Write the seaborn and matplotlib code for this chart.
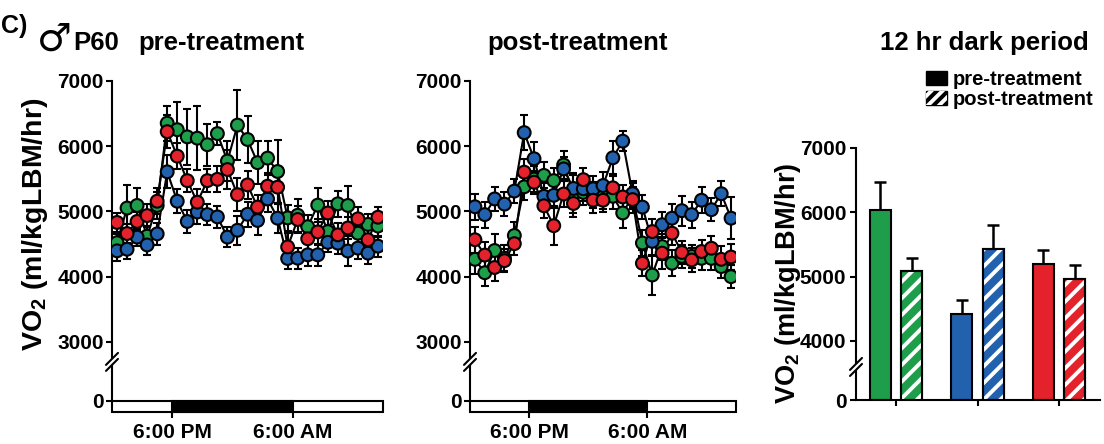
import numpy as np
import pandas as pd
import seaborn as sns
import matplotlib.pyplot as plt
from matplotlib.patches import Rectangle, Patch
from matplotlib.legend_handler import HandlerTuple

#%% Data
# hourly bins, noon day 1 -> 3 PM day 2 (hours since midnight)
hours = np.arange(12.5, 39.5, 1.0)
groups = ['green', 'blue', 'red']
colors = {'green': '#1e9e4a', 'blue': '#2161ae', 'red': '#e3222b'}

pre_green = [4520, 5050, 5090, 4620, 5090, 6350, 6250, 6140, 6120, 6020, 6190, 5770, 6320, 6100,
             5745, 5815, 5610, 4900, 4940, 4765, 5095, 4690, 5115, 5090, 4665, 4800, 4775]
pre_blue = [4395, 4420, 4605, 4485, 4655, 5605, 5155, 4845, 4990, 4950, 4915, 4605, 4710, 4955,
            4860, 5190, 4895, 4278, 4283, 4334, 4334, 4525, 4513, 4392, 4437, 4360, 4467]
pre_red = [4830, 4660, 4845, 4935, 5155, 6220, 5845, 5470, 5140, 5470, 5490, 5640, 5255, 5405,
           5065, 5385, 5370, 4455, 4875, 4580, 4685, 4975, 4640, 4745, 4885, 4565, 4910]
pre_green_sem = [130, 360, 270, 150, 200, 270, 420, 430, 490, 320, 180, 300, 540, 360,
                 330, 260, 480, 200, 250, 180, 260, 200, 200, 300, 180, 160, 170]
pre_blue_sem = [150, 150, 130, 160, 170, 250, 180, 170, 180, 160, 170, 150, 220, 190,
                220, 200, 220, 160, 160, 170, 170, 150, 160, 230, 160, 170, 160]
pre_red_sem = [150, 150, 150, 180, 200, 250, 200, 180, 200, 180, 200, 300, 250, 220,
               180, 200, 250, 220, 200, 180, 200, 180, 180, 170, 180, 180, 160]

post_green = [4265, 4060, 4400, 4280, 4630, 5375, 5495, 5550, 5470, 5710, 5280, 5290, 5255, 5230,
              5230, 4975, 5230, 4515, 4025, 4460, 4205, 4310, 4310, 4280, 4280, 4155, 4000]
post_blue = [5070, 4950, 5190, 5110, 5310, 6205, 5805, 5230, 5245, 5650, 5350, 5345, 5345, 5395,
             5820, 6075, 5270, 5065, 4540, 4795, 4895, 5010, 4950, 5170, 5025, 5270, 4895]
post_red = [4565, 4330, 4140, 4245, 4505, 5600, 5445, 5085, 4780, 5265, 5120, 5485, 5170, 5170,
            5360, 5220, 5180, 4205, 4690, 4360, 4665, 4370, 4255, 4385, 4435, 4265, 4300]
post_green_sem = [220, 200, 250, 200, 200, 200, 200, 200, 200, 220, 300, 200, 200, 200,
                  200, 230, 200, 200, 300, 200, 200, 180, 180, 180, 180, 180, 180]
post_blue_sem = [200, 200, 180, 180, 180, 270, 250, 200, 200, 180, 200, 180, 200, 200,
                 250, 150, 200, 180, 230, 200, 220, 230, 200, 200, 180, 190, 320]
post_red_sem = [200, 200, 200, 180, 180, 200, 180, 180, 300, 200, 200, 180, 200, 180,
                180, 180, 200, 200, 200, 250, 180, 180, 180, 180, 180, 200, 200]

# 12 hr dark period means
bar_pre = [6030, 4420, 5190]
bar_post = [5080, 5425, 4965]
bar_pre_sem = [430, 215, 220]
bar_post_sem = [210, 370, 215]

#%% Style
sns.set_style('ticks')
plt.rcParams['font.family'] = ['Liberation Sans', 'DejaVu Sans']
plt.rcParams.update({
    'font.weight': 'bold',
    'mathtext.fontset': 'custom',
    'mathtext.rm': 'Liberation Sans:bold',
    'mathtext.default': 'rm',
    'hatch.linewidth': 2.8,
    'axes.edgecolor': 'black',
    'axes.linewidth': 1.5,
    'xtick.color': 'black', 'ytick.color': 'black',
    'xtick.major.width': 1.5, 'ytick.major.width': 1.5,
    'xtick.major.size': 4, 'ytick.major.size': 4,
    'xtick.labelsize': 15, 'ytick.labelsize': 15,
    'text.color': 'black',
})


def broken_scale(ax, B, c):
    fwd = lambda v: np.where(v >= B, v, B - (B - v) * c)
    inv = lambda u: np.where(u >= B, u, B - (B - u) / c)
    ax.set_yscale('function', functions=(fwd, inv))


def axis_break(ax, yf):
    W, H = ax.bbox.width, ax.bbox.height
    dx, dy, gap = 6 / W, 6 / H, 3 / H
    ax.plot([0, 0], [yf - gap, yf + gap], transform=ax.transAxes, color='white',
            lw=3, clip_on=False, zorder=10, solid_capstyle='butt')
    for off in (-gap, gap):
        ax.plot([-dx, dx], [yf + off - dy, yf + off + dy], transform=ax.transAxes,
                color='black', lw=1.5, clip_on=False, zorder=11)


def long_df(g, b, r, eg, eb, er):
    parts = [pd.DataFrame({'hour': hours, 'vo2': v, 'sem': e, 'group': name})
             for name, v, e in [('green', g, eg), ('blue', b, eb), ('red', r, er)]]
    return pd.concat(parts, ignore_index=True)


def timecourse(ax, df):
    sns.lineplot(data=df, x='hour', y='vo2', units='group', estimator=None,
                 color='black', lw=1.5, ax=ax, zorder=2)
    for name in groups:
        d = df[df.group == name]
        ax.errorbar(d.hour, d.vo2, yerr=d['sem'], fmt='none', ecolor='black',
                    elinewidth=1.5, capsize=3, capthick=1.5, zorder=2)
    sns.scatterplot(data=df, x='hour', y='vo2', hue='group', palette=colors, s=85,
                    edgecolor='black', linewidth=1.5, legend=False, ax=ax, zorder=3)
    broken_scale(ax, 3000, 0.3)
    ax.set_xlim(12, 39)
    ax.set_ylim(-590, 7000)
    ax.add_patch(Rectangle((12, -590), 27, 590, fc='white', ec='black', lw=1.5,
                           clip_on=False, zorder=4))
    ax.add_patch(Rectangle((18, -590), 12, 590, fc='black', ec='black', lw=1.5,
                           clip_on=False, zorder=4))
    ax.set_yticks([0, 3000, 4000, 5000, 6000, 7000])
    ax.minorticks_off()
    ax.set_xticks([18, 30], ['6:00 PM', '6:00 AM'])
    ax.set_xlabel('')
    ax.set_ylabel('')
    sns.despine(ax=ax, bottom=True)
    ax.spines['left'].set_bounds(0, 7000)
    ax.tick_params(axis='y', pad=2)
    axis_break(ax, 0.152)


#%% Figure
fig = plt.figure(figsize=(11.04, 4.44), dpi=100)
ax1 = fig.add_axes([112 / 1104, 1 - 412.3 / 444, 271 / 1104, 331.6 / 444])
ax2 = fig.add_axes([470 / 1104, 1 - 412.3 / 444, 266 / 1104, 331.6 / 444])
ax3 = fig.add_axes([856 / 1104, 1 - 400 / 444, 244 / 1104, 252.3 / 444])

timecourse(ax1, long_df(pre_green, pre_blue, pre_red, pre_green_sem, pre_blue_sem, pre_red_sem))
timecourse(ax2, long_df(post_green, post_blue, post_red, post_green_sem, post_blue_sem, post_red_sem))

# dark period bars
bar_df = pd.DataFrame({'group': groups * 2,
                       'treatment': ['pre'] * 3 + ['post'] * 3,
                       'vo2': bar_pre + bar_post})
sns.barplot(data=bar_df, x='group', y='vo2', hue='treatment', order=groups,
            hue_order=['pre', 'post'], width=0.77, gap=0.33, errorbar=None,
            edgecolor='black', linewidth=1.5, legend=False, ax=ax3)
bars = [list(c) for c in ax3.containers[:2]]
for row, sems, hatched in [(bars[0], bar_pre_sem, False), (bars[1], bar_post_sem, True)]:
    for bar, g, e in zip(row, groups, sems):
        bar.set_facecolor(colors[g])
        x = bar.get_x() + bar.get_width() / 2
        ax3.errorbar(x, bar.get_height(), yerr=[[0], [e]], fmt='none', ecolor='black',
                     elinewidth=1.8, capsize=4, capthick=1.8, zorder=1)
        if hatched:
            ax3.add_patch(Rectangle(bar.get_xy(), bar.get_width(), bar.get_height(),
                                    fc='none', ec='white', hatch='//', lw=0, zorder=3))
            ax3.add_patch(Rectangle(bar.get_xy(), bar.get_width(), bar.get_height(),
                                    fc='none', ec='black', lw=1.5, zorder=3.1))
for bar in bars[0] + bars[1]:
    bar.set_zorder(2)
broken_scale(ax3, 4000, 0.229)
ax3.set_ylim(0, 7000)
ax3.set_xlim(-0.49, 2.5)
ax3.set_yticks([0, 4000, 5000, 6000, 7000])
ax3.minorticks_off()
ax3.set_xticks([0, 1, 2], ['', '', ''])
ax3.set_xlabel('')
ax3.set_ylabel('')
sns.despine(ax=ax3)
ax3.tick_params(axis='y', pad=3)
axis_break(ax3, 0.131)

# axis labels and titles
ylab = r'VO$_2$ (ml/kgLBM/hr)'
fig.text(35 / 1104, 1 - 224 / 444, ylab, rotation=90, ha='center', va='center', fontsize=20.5)
fig.text(788 / 1104, 1 - 283 / 444, ylab, rotation=90, ha='center', va='center', fontsize=19.5)

fig.text(0.001, 1 - 33 / 444, 'C)', fontsize=18, va='baseline')
fig.text(37 / 1104, 1 - 51 / 444, '\u2642', fontsize=28, family='DejaVu Sans',
         weight='normal', va='baseline')
fig.text(73 / 1104, 1 - 50 / 444, 'P60', fontsize=18.5, va='baseline')
fig.text(138 / 1104, 1 - 50 / 444, 'pre-treatment', fontsize=18.5, va='baseline')
fig.text(487 / 1104, 1 - 50 / 444, 'post-treatment', fontsize=18.5, va='baseline')
fig.text(880 / 1104, 1 - 50 / 444, '12 hr dark period', fontsize=18.5, va='baseline')

handles = [Patch(fc='black', ec='black'),
           (Patch(fc='black', ec='black'), Patch(fc='none', ec='white', hatch='///', lw=0))]
fig.legend(handles, ['pre-treatment', 'post-treatment'],
           handler_map={tuple: HandlerTuple(ndivide=1, pad=0)},
           loc='upper left', bbox_to_anchor=(926 / 1104, 1 - 70 / 444), frameon=False,
           fontsize=14.5, handlelength=1.05, handleheight=0.75, handletextpad=0.3,
           labelspacing=0.05, borderpad=0, borderaxespad=0)

fig.savefig('out.png', dpi=100, facecolor='white')
